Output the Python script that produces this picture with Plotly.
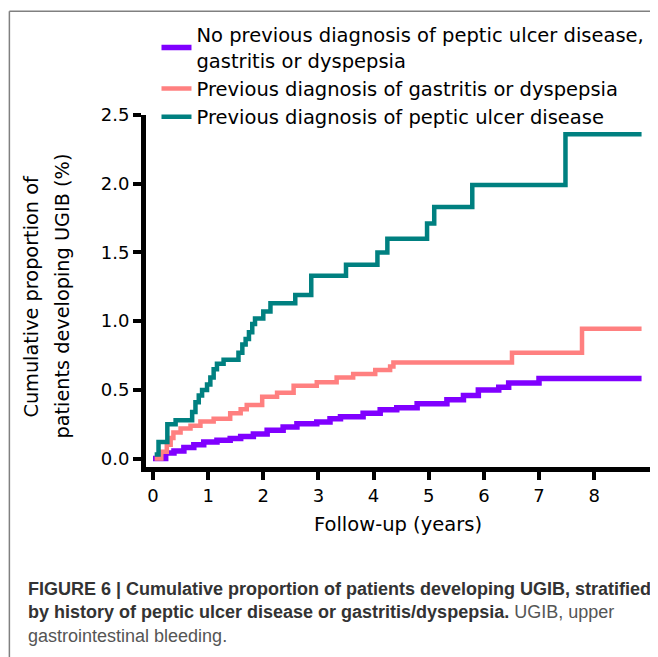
import plotly.graph_objects as go

# Follow-up time (years) at each step and cumulative proportion (%) after it
none_t = [0.0, 0.23, 0.38, 0.56, 0.74, 0.92, 1.16, 1.40, 1.59, 1.82, 2.07, 2.36, 2.61, 2.97,
          3.21, 3.40, 3.81, 4.12, 4.42, 4.79, 5.33, 5.63, 5.90, 6.27, 6.45, 7.00, 8.86]
none_v = [0.0, 0.04, 0.056, 0.08, 0.10, 0.12, 0.134, 0.146, 0.16, 0.18, 0.206, 0.23, 0.254, 0.266,
          0.29, 0.305, 0.33, 0.355, 0.37, 0.40, 0.428, 0.46, 0.50, 0.52, 0.55, 0.583, 0.583]

gast_t = [0.03, 0.15, 0.25, 0.32, 0.37, 0.50, 0.68, 0.86, 1.10, 1.40, 1.59, 1.70, 1.98, 2.25,
          2.55, 2.97, 3.33, 3.63, 4.03, 4.30, 4.36, 6.51, 7.78, 8.86]
gast_v = [0.0, 0.05, 0.10, 0.15, 0.19, 0.22, 0.24, 0.27, 0.29, 0.33, 0.36, 0.39, 0.45, 0.48,
          0.53, 0.555, 0.59, 0.615, 0.645, 0.67, 0.70, 0.77, 0.945, 0.945]

pud_t = [0.03, 0.10, 0.26, 0.41, 0.71, 0.77, 0.83, 0.89, 0.98, 1.04, 1.10, 1.16, 1.28, 1.55,
         1.62, 1.68, 1.74, 1.80, 1.85, 2.00, 2.13, 2.58, 2.87, 3.50, 4.07, 4.25, 4.97, 5.10,
         5.79, 7.48, 8.86]
pud_v = [0.03, 0.12, 0.25, 0.28, 0.34, 0.41, 0.46, 0.50, 0.54, 0.59, 0.65, 0.69, 0.72, 0.77,
         0.83, 0.87, 0.92, 0.98, 1.02, 1.07, 1.13, 1.19, 1.33, 1.41, 1.50, 1.60, 1.71, 1.83,
         1.99, 2.36, 2.36]

x_ticks = [0, 1, 2, 3, 4, 5, 6, 7, 8]
y_ticks = [0.0, 0.5, 1.0, 1.5, 2.0, 2.5]

font = "DejaVu Sans, Liberation Sans, Arial, sans-serif"
cap_font = "Liberation Sans, Arial, sans-serif"

# page sits inside an 8px body margin, so the figure is 8px smaller
W, H = 650, 649
ml, mr, mt, mb = 137.5, 8, 105, 190
pw, ph = W - ml - mr, H - mt - mb


def px(x):  # page x -> paper
    return (x - 8 - ml) / pw


def py(y):  # page y -> paper
    return (8 + mt + ph - y) / ph


fig = go.Figure()
fig.add_trace(go.Scatter(x=none_t, y=none_v, mode="lines", line_shape="hv",
                         line=dict(color="#8000FF", width=5.5),
                         name="No previous diagnosis of peptic ulcer disease,<br>gastritis or dyspepsia"))
fig.add_trace(go.Scatter(x=gast_t, y=gast_v, mode="lines", line_shape="hv",
                         line=dict(color="#FF8080", width=4.5),
                         name="Previous diagnosis of gastritis or dyspepsia"))
fig.add_trace(go.Scatter(x=pud_t, y=pud_v, mode="lines", line_shape="hv",
                         line=dict(color="#008080", width=4.5),
                         name="Previous diagnosis of peptic ulcer disease"))

fig.update_xaxes(range=[-0.127, 9.013], tickvals=x_ticks, showgrid=False, zeroline=False,
                 showline=True, linewidth=5, linecolor="black", automargin=False,
                 ticks="outside", ticklen=8, tickwidth=4, tickcolor="black",
                 tickfont=dict(size=18, color="black"),
                 title=dict(text="Follow-up (years)", font=dict(size=19.5, color="black"), standoff=14))
fig.update_yaxes(range=[-0.061, 2.5], tickvals=y_ticks, tickformat=".1f", showgrid=False,
                 zeroline=False, showline=True, linewidth=5, linecolor="black", automargin=False,
                 ticks="outside", ticklen=8, tickwidth=4, tickcolor="black",
                 tickfont=dict(size=18, color="black"))

fig.update_layout(
    width=W, height=H,
    margin=dict(l=ml, r=mr, t=mt, b=mb),
    paper_bgcolor="white", plot_bgcolor="white",
    font=dict(family=font, color="black"),
    legend=dict(x=px(156), y=py(13), xanchor="left", yanchor="top",
                font=dict(size=19.5, color="black"), bgcolor="rgba(0,0,0,0)",
                itemwidth=30, tracegroupgap=0),
)

# y-axis title as two rotated lines
for txt, cx in [("Cumulative proportion of", 31), ("patients developing UGIB (%)", 62)]:
    fig.add_annotation(text=txt, xref="paper", yref="paper", x=px(cx), y=py(295),
                       xanchor="center", yanchor="middle", textangle=-90, showarrow=False,
                       font=dict(family=font, size=19.3, color="black"))

# frame (left and top edges visible)
fig.add_shape(type="line", xref="paper", yref="paper", x0=px(8.75), x1=px(8.75), y0=py(8.75), y1=py(700),
              line=dict(color="#808080", width=1.5))
fig.add_shape(type="line", xref="paper", yref="paper", x0=px(8.75), x1=px(700), y0=py(8.75), y1=py(8.75),
              line=dict(color="#808080", width=1.5))

captions = [
    "<b>FIGURE 6 | Cumulative proportion of patients developing UGIB, stratified</b>",
    "<b>by history of peptic ulcer disease or gastritis/dyspepsia.</b> <span style='color:#555'>UGIB, upper</span>",
    "<span style='color:#555'>gastrointestinal bleeding.</span>",
]
cap_y = [590, 613, 637]
for txt, yy in zip(captions, cap_y):
    fig.add_annotation(text=txt, xref="paper", yref="paper", x=px(25), y=py(yy),
                       xanchor="left", yanchor="middle", showarrow=False,
                       font=dict(family=cap_font, size=18, color="#333333"))

fig.write_html("out.html")
